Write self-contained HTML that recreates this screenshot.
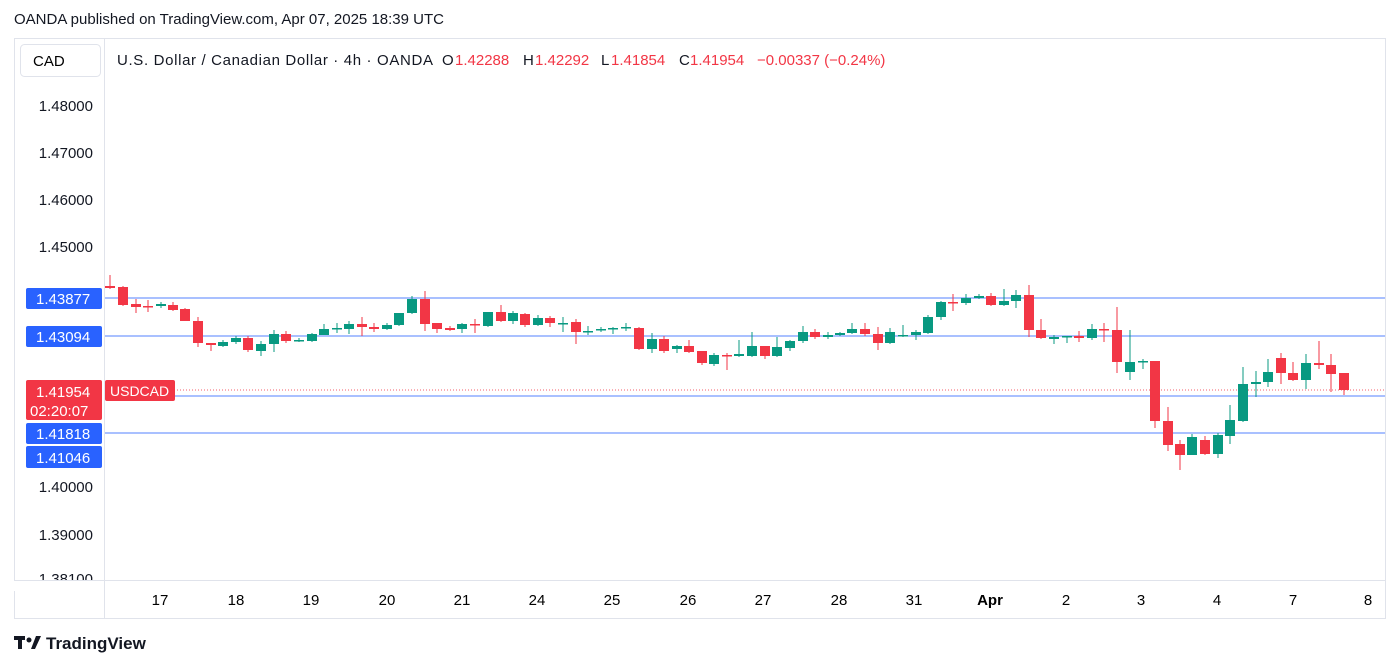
<!DOCTYPE html>
<html><head><meta charset="utf-8"><style>
body{margin:0;width:1400px;height:667px;background:#fff;font-family:"Liberation Sans",sans-serif;color:#131722;overflow:hidden;position:relative}
.t{position:absolute;white-space:nowrap}
</style></head><body>
<div class="t" style="left:14px;top:11px;font-size:15px">OANDA published on TradingView.com, Apr 07, 2025 18:39 UTC</div>
<svg width="1400" height="667" style="position:absolute;left:0;top:0" font-family="Liberation Sans, sans-serif">
<rect x="14.5" y="38.5" width="1371" height="580" fill="none" stroke="#e0e3eb"/>
<line x1="104.5" y1="38" x2="104.5" y2="618" stroke="#e0e3eb"/>
<line x1="14" y1="580.5" x2="1385" y2="580.5" stroke="#e0e3eb"/>
<rect x="20.5" y="44.5" width="80" height="32" rx="4" fill="#fff" stroke="#e0e3eb"/>
<text x="33" y="66" font-size="15">CAD</text>
<g font-size="15">
<text x="117" y="65" fill="#131722" textLength="316" lengthAdjust="spacing">U.S. Dollar / Canadian Dollar · 4h · OANDA</text>
<text x="442" y="65" fill="#131722">O</text><text x="455" y="65" fill="#f23645">1.42288</text>
<text x="523" y="65" fill="#131722">H</text><text x="535" y="65" fill="#f23645">1.42292</text>
<text x="601" y="65" fill="#131722">L</text><text x="611" y="65" fill="#f23645">1.41854</text>
<text x="679" y="65" fill="#131722">C</text><text x="690" y="65" fill="#f23645">1.41954</text>
<text x="757" y="65" fill="#f23645">−0.00337 (−0.24%)</text>
</g>
<g font-size="15" text-anchor="end" fill="#131722">
<text x="93" y="111">1.48000</text><text x="93" y="158">1.47000</text><text x="93" y="205">1.46000</text><text x="93" y="252">1.45000</text><text x="93" y="492">1.40000</text><text x="93" y="540">1.39000</text>
<text x="93" y="584">1.38100</text>
</g>
<rect x="14" y="581" width="90" height="10" fill="#fff"/>
<line x1="14" y1="580.5" x2="1385" y2="580.5" stroke="#e0e3eb"/>
<g stroke="#2962ff" stroke-width="1" opacity="0.8">
<line x1="105" y1="298" x2="1385" y2="298"/><line x1="105" y1="336" x2="1385" y2="336"/>
<line x1="105" y1="396" x2="1385" y2="396"/><line x1="105" y1="433" x2="1385" y2="433"/>
</g>
<line x1="105" y1="390" x2="1385" y2="390" stroke="#f23645" stroke-dasharray="1,2" opacity="0.8"/>
<g id="c"></g>
<rect x="26" y="288" width="76" height="21" rx="2" fill="#2962ff"/><text x="36" y="304" font-size="15" fill="#fff">1.43877</text>
<rect x="26" y="326" width="76" height="21" rx="2" fill="#2962ff"/><text x="36" y="342" font-size="15" fill="#fff">1.43094</text>
<rect x="26" y="380" width="76" height="40" rx="2" fill="#f23645"/><text x="36" y="397" font-size="15" fill="#fff">1.41954</text><text x="30" y="416" font-size="15" fill="#fff">02:20:07</text>
<rect x="26" y="423" width="76" height="21" rx="2" fill="#2962ff"/><text x="36" y="439" font-size="15" fill="#fff">1.41818</text>
<rect x="26" y="446" width="76" height="22" rx="2" fill="#2962ff"/><text x="36" y="463" font-size="15" fill="#fff">1.41046</text>
<rect x="105" y="380" width="70" height="21" rx="2" fill="#f23645"/><text x="110" y="396" font-size="14" fill="#fff">USDCAD</text>
<g font-size="15" text-anchor="middle">
<text x="160" y="605">17</text><text x="236" y="605">18</text><text x="311" y="605">19</text><text x="387" y="605">20</text><text x="462" y="605">21</text><text x="537" y="605">24</text><text x="612" y="605">25</text><text x="688" y="605">26</text><text x="763" y="605">27</text><text x="839" y="605">28</text><text x="914" y="605">31</text><text x="990" y="605" font-weight="bold">Apr</text><text x="1066" y="605">2</text><text x="1141" y="605">3</text><text x="1217" y="605">4</text><text x="1293" y="605">7</text><text x="1368" y="605">8</text>
</g>
<g fill="#131722"><rect x="14" y="636" width="11" height="4"/><rect x="18" y="636" width="4" height="13"/><circle cx="29" cy="640" r="2.5"/><path d="M31 649 L36 636 L41 636 L35 649Z"/></g>
<text x="46" y="649" font-size="17" font-weight="bold" fill="#131722">TradingView</text>
</svg>
<script>
var d=[[110,286,288,275,289],[123,287,305,286,306],[136,304,307,299,313],[148,306,306.5,300,312],[161,306,304,302,308],[173,305,310,302,311],[185,309,321,308,321],[198,321,343,317,347],[211,343,345,343,351],[223,346,342,340,347],[236,342,338,336,344],[248,338,350,336,352],[261,351,344,341,356],[274,344,334,330,352],[286,334,341,331,343],[299,341,340,338,342],[312,341,334,333,342],[324,335,329,324,335],[337,328.5,328,323,333],[349,329,324,321,334],[362,324,327,317,336],[374,327,329,323,332],[387,329,325,323,330],[399,325,313,313,326],[412,313,299,296,314],[425,299,324,291,331],[437,323,329,323,333],[450,328,330,326,331],[462,329,324,323,333],[475,324,324.5,319,333],[488,326,312,312,327],[501,312,321,305,322],[513,321,313,311,324],[525,314,325,313,327],[538,325,318,315,326],[550,318,323,316,327],[563,324,323,317,332],[576,322,332,319,344],[588,331.5,331,326,335],[601,329.5,329,327,332],[613,329,328,327,334],[626,327.5,327,323,331],[639,328,349,327,350],[652,349,339,333,353],[664,339,351,336,353],[677,349,346,345,353],[689,346,352,340,353],[702,351,363,351,365],[714,364,355,353,366],[727,355,356,353,370],[739,356,354,340,357],[752,356,346,332,357],[765,346,356,346,359],[777,356,347,337,357],[790,348,341,340,351],[803,341,332,326,343],[815,332,337,329,339],[828,337,335,332,339],[840,335,333,332,336],[852,333,329,323,334],[865,329,334,323,336],[878,334,343,327,350],[890,343,332,328,344],[903,336,335,325,337],[916,335,332,330,340],[928,333,317,315,334],[941,317,302,301,320],[953,302,303,294,311],[966,303,298,294,305],[979,298,296,294,299],[991,296,305,293,306],[1004,305,301,289,306],[1016,301,295,290,308],[1029,295,330,285,337],[1041,330,338,319,339],[1054,339,337,335,344],[1067,336.5,336,336,343],[1079,336,338,331,342],[1092,338,329,324,340],[1104,329,330,323,342],[1117,330,362,307,373],[1130,372,362,330,380],[1143,362,361,359,369],[1155,361,421,361,428],[1168,421,445,407,451],[1180,444,455,440,470],[1192,455,437,434,455],[1205,440,454,436,455],[1218,454,435,433,458],[1230,436,420,405,444],[1243,421,384,367,422],[1256,384,382,371,397],[1268,382,372,359,387],[1281,358,373,353,384],[1293,373,380,362,381],[1306,380,363,354,389],[1319,363,365,341,369],[1331,365,374,354,392],[1344,373,390,373,395]];
var s='';d.forEach(function(c){var x=c[0],o=c[1],cl=c[2],up=cl<o,col=up?'#089981':'#f23645';var t=Math.min(o,cl),h=Math.max(Math.abs(o-cl),1.5);
s+='<line x1="'+x+'" y1="'+c[3]+'" x2="'+x+'" y2="'+c[4]+'" stroke="'+col+'"/><rect x="'+(x-5)+'" y="'+t+'" width="10" height="'+h+'" fill="'+col+'"/>';});
document.getElementById('c').innerHTML=s;
</script>
</body></html>
